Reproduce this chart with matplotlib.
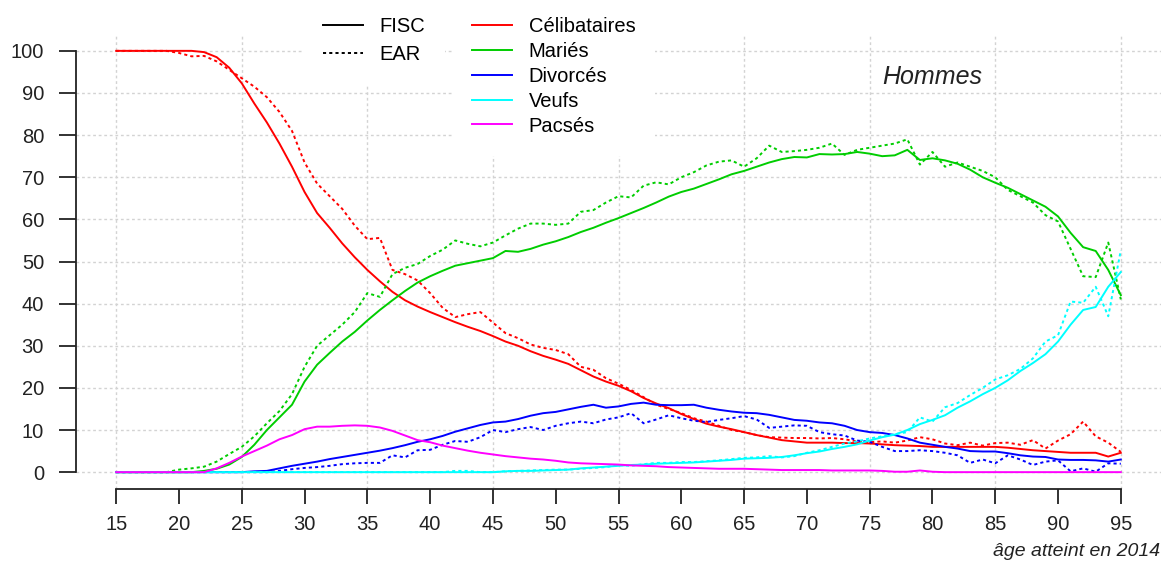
import numpy as np
import matplotlib
matplotlib.use("Agg")
import matplotlib.pyplot as plt
from matplotlib.lines import Line2D

W, H = 1165, 565

ages = np.arange(15, 96)

# Célibataires
cel_fisc = [100] * 7 + [
    99.7, 98.5, 96, 92.3, 87.5, 83, 78, 72.5, 66.5, 61.5, 58, 54.3, 51, 48, 45.3, 42.8, 40.8, 39.3, 38,
    36.8, 35.6, 34.5, 33.5, 32.3, 31, 30, 28.7, 27.6, 26.7, 25.7, 24.2, 22.7, 21.5, 20.5, 19.2, 17.6,
    16.3, 15.2, 13.8, 12.6, 11.5, 10.8, 10.2, 9.5, 8.8, 8.2, 7.6, 7.3, 7.0, 7.0, 7.0, 6.9, 6.9, 6.8,
    6.6, 6.4, 6.3, 6.2, 6.0, 6.0, 6.0, 6.0, 6.0, 6.0, 5.8, 5.5, 5.2, 5.0, 4.8, 4.6, 4.6, 4.6, 3.7, 4.6]
cel_ear = [100] * 5 + [
    99.5, 98.7, 98.8, 97.5, 95.5, 93.5, 91.5, 89, 85.5, 81, 73.5, 68.5, 65.5, 62.5, 58.5, 55.3, 55.6,
    48, 47, 45.5, 42.5, 39, 36.8, 37.5, 38, 35.5, 33, 31.8, 30.3, 29.5, 29, 28, 25, 24.3, 22.3, 21,
    19.5, 17.8, 16, 15, 14, 12.8, 12, 11, 10, 9.5, 8.8, 8.3, 8.2, 8.1, 8.1, 8.0, 8.1, 7.8, 7.3, 7.1,
    7.3, 7.0, 7.5, 8.3, 7.8, 6.8, 6.4, 7.0, 6.3, 6.9, 7.0, 6.5, 7.6, 5.6, 7.5, 9.0, 12.0, 8.5, 7.0, 4.8]

# Mariés
mar_fisc = [0] * 7 + [
    0.3, 0.8, 1.8, 3.6, 6.5, 10, 13, 16, 21.5, 25.5, 28.3, 31, 33.3, 36, 38.5, 40.8, 43, 45, 46.5,
    47.8, 49, 49.6, 50.2, 50.8, 52.5, 52.3, 53, 54, 54.8, 55.8, 57, 58, 59.2, 60.3, 61.5, 62.7, 64,
    65.4, 66.5, 67.3, 68.4, 69.5, 70.7, 71.5, 72.5, 73.5, 74.3, 74.8, 74.7, 75.5, 75.4, 75.5, 76,
    75.6, 75, 75.2, 76.5, 74.1, 74.5, 74, 73.2, 71.8, 70, 68.7, 67.5, 66, 64.5, 63, 60.7, 56.8, 53.4,
    52.5, 48, 42]
mar_ear = [0] * 5 + [
    0.6, 0.9, 1.3, 2.5, 4.3, 6, 8.5, 11.6, 14.5, 18.5, 25, 30, 32.5, 35, 38, 42.5, 41.6, 47, 48.5,
    49.4, 51.3, 52.8, 55, 54.2, 53.6, 54.5, 56.2, 57.8, 59, 59, 58.7, 59, 61.8, 62.2, 64, 65.5, 65.2,
    68, 68.8, 68.3, 70, 71.2, 72.8, 73.7, 74, 72.5, 74.5, 77.5, 76, 76.2, 76.5, 77, 78, 75.3, 76.5,
    77, 77.5, 78, 79, 73, 76, 72.5, 73.5, 72.5, 71.5, 70, 67, 65.5, 64, 61, 59.5, 53, 46.5, 46.3,
    54.5, 41]

# Divorcés
div_fisc = [0] * 11 + [
    0.2, 0.3, 0.9, 1.5, 2.0, 2.5, 3.1, 3.6, 4.1, 4.6, 5.1, 5.7, 6.4, 7.2, 7.8, 8.6, 9.6, 10.4, 11.2,
    11.8, 12, 12.6, 13.4, 14, 14.3, 14.9, 15.5, 16, 15.3, 15.6, 16.2, 16.5, 16, 15.9, 15.9, 16, 15.3,
    14.8, 14.4, 14.1, 14, 13.6, 13, 12.4, 12.2, 11.8, 11.6, 11, 10, 9.5, 9.3, 8.8, 8, 7, 6.5, 6, 5.6,
    5, 4.9, 4.9, 4.5, 4, 3.7, 3.6, 3.0, 2.9, 2.9, 2.8, 2.5, 3.0]
div_ear = [0] * 13 + [
    0.3, 0.7, 1, 1.2, 1.5, 1.9, 2.1, 2.2, 2.2, 4, 3.5, 5.2, 5.3, 6.5, 7.4, 7.2, 8.3, 10, 9.5, 10.2,
    10.7, 10, 11, 11.6, 12, 11.6, 12.5, 13, 14, 11.6, 12.5, 13.5, 12.8, 12.2, 11.9, 12.4, 12.8, 13.3,
    12.5, 10.5, 10.8, 11.1, 11, 9.5, 9, 8.7, 7.5, 7.2, 6, 5, 5, 5.2, 5, 4.6, 4, 2.2, 3, 2.1, 4, 3,
    1.7, 2.5, 2.8, 0.2, 0.9, 0.1, 2.1, 2]

# Veufs
veuf_fisc = [0] * 31 + [
    0.2, 0.3, 0.3, 0.4, 0.5, 0.6, 0.9, 1.1, 1.3, 1.5, 1.7, 1.8, 2.0, 2.1, 2.2, 2.3, 2.5, 2.7, 2.9,
    3.2, 3.3, 3.4, 3.6, 4.0, 4.5, 4.9, 5.5, 6.0, 6.6, 7.5, 8.3, 8.9, 10, 11.4, 12.4, 13.5, 15.3, 16.8,
    18.5, 20, 21.8, 24, 25.9, 28, 31, 35, 38.5, 39.2, 44, 47.5]
veuf_ear = [0] * 27 + [
    0.3, 0.3, 0, 0, 0.2, 0.3, 0.4, 0.5, 0.6, 0.6, 0.8, 1.0, 1.2, 1.7, 1.5, 1.9, 2.2, 2.2, 2.4, 2.4,
    2.6, 2.8, 3.1, 3.4, 3.5, 3.8, 3.5, 3.8, 4.6, 5.2, 6, 6.8, 7.3, 8, 8.5, 9, 9.5, 13, 12, 15.4, 16.4,
    18.3, 20, 22, 23, 24.5, 27, 31, 32.5, 40.5, 40.2, 44, 37, 52.7]

# Pacsés (FISC only)
pacs_fisc = [0] * 8 + [
    0.9, 2.2, 3.7, 5, 6.3, 7.8, 8.8, 10.2, 10.8, 10.8, 11, 11.1, 11, 10.6, 9.8, 8.7, 7.6, 7.1, 6.3,
    5.7, 5.1, 4.6, 4.2, 3.8, 3.5, 3.2, 3.0, 2.7, 2.3, 2.1, 2.0, 1.9, 1.8, 1.6, 1.5, 1.4, 1.2, 1.1,
    1.0, 0.9, 0.8, 0.8, 0.8, 0.7, 0.6, 0.5, 0.5, 0.5, 0.5, 0.4, 0.4, 0.4, 0.4, 0.3, 0.1, 0.1, 0.4,
    0.1] + [0] * 15

statuts = ["Célibataires", "Mariés", "Divorcés", "Veufs", "Pacsés"]
couleurs = ["#FF0000", "#00CD00", "#0000FF", "#00FFFF", "#FF00FF"]
series_fisc = [cel_fisc, mar_fisc, div_fisc, veuf_fisc, pacs_fisc]
series_ear = [cel_ear, mar_ear, div_ear, veuf_ear, None]

DOT = (0, (1.6, 1.6))

plt.rcParams["font.family"] = ["Liberation Sans", "DejaVu Sans"]
plt.rcParams["font.size"] = 14

fig = plt.figure(figsize=(W / 100, H / 100), dpi=100)
# plot region in pixels: x 76..1161, y 34..489
ax = fig.add_axes([76 / W, 1 - 489 / H, (1161 - 76) / W, (489 - 34) / H])
ax.set_xlim(11.8, 98.2)
ax.set_ylim(-4, 104)

# light dotted grid
for y in range(0, 101, 10):
    ax.axhline(y, color="#D3D3D3", lw=1.0, ls=(0, (2, 2)), zorder=0)
for x in range(15, 96, 10):
    ax.axvline(x, color="#D3D3D3", lw=1.0, ls=(0, (2, 2)), zorder=0)

for fisc, ear, col in zip(series_fisc, series_ear, couleurs):
    ax.plot(ages, fisc, color=col, lw=1.4, zorder=2)
    if ear is not None:
        ax.plot(ages, ear, color=col, lw=1.4, ls=DOT, zorder=2)

# R-style axes
for side in ["top", "right"]:
    ax.spines[side].set_visible(False)
ax.spines["left"].set_bounds(0, 100)
ax.spines["bottom"].set_bounds(15, 95)
for side in ["left", "bottom"]:
    ax.spines[side].set_linewidth(1.3)
    ax.spines[side].set_color("#222222")
ax.set_yticks(range(0, 101, 10))
ax.set_xticks(range(15, 96, 5))
ax.tick_params(axis="y", length=12, width=1.3, pad=11, labelsize=14.5, colors="#222222")
ax.tick_params(axis="x", length=11, width=1.3, pad=8, labelsize=14.5, colors="#222222")

ax.text(80, 93.8, "Hommes", ha="center", va="center", style="italic", fontsize=18, color="#222222")
fig.text(1160 / W, 1 - 552 / H, "âge atteint en 2014", ha="right", va="center",
         style="italic", fontsize=14, color="#222222")

# legends (white boxes cover the grid as in the original)
h1 = [Line2D([], [], color="black", lw=1.4), Line2D([], [], color="black", lw=1.4, ls=DOT)]
leg1 = fig.legend(h1, ["FISC", "EAR"], loc="upper left", bbox_to_anchor=(303 / W, 1 + 3 / H),
                  frameon=True, facecolor="white", edgecolor="none", framealpha=1, fancybox=False,
                  fontsize=14.5, handlelength=2.0, handletextpad=0.8, labelspacing=0.45,
                  borderpad=1.0, borderaxespad=0)
h2 = [Line2D([], [], color=c, lw=1.4) for c in couleurs]
leg2 = fig.legend(h2, statuts, loc="upper left", bbox_to_anchor=(452 / W, 1 + 3 / H),
                  frameon=True, facecolor="white", edgecolor="none", framealpha=1, fancybox=False,
                  fontsize=14.5, handlelength=2.0, handletextpad=0.8, labelspacing=0.29,
                  borderpad=1.0, borderaxespad=0)

fig.savefig("out.png", dpi=100)
